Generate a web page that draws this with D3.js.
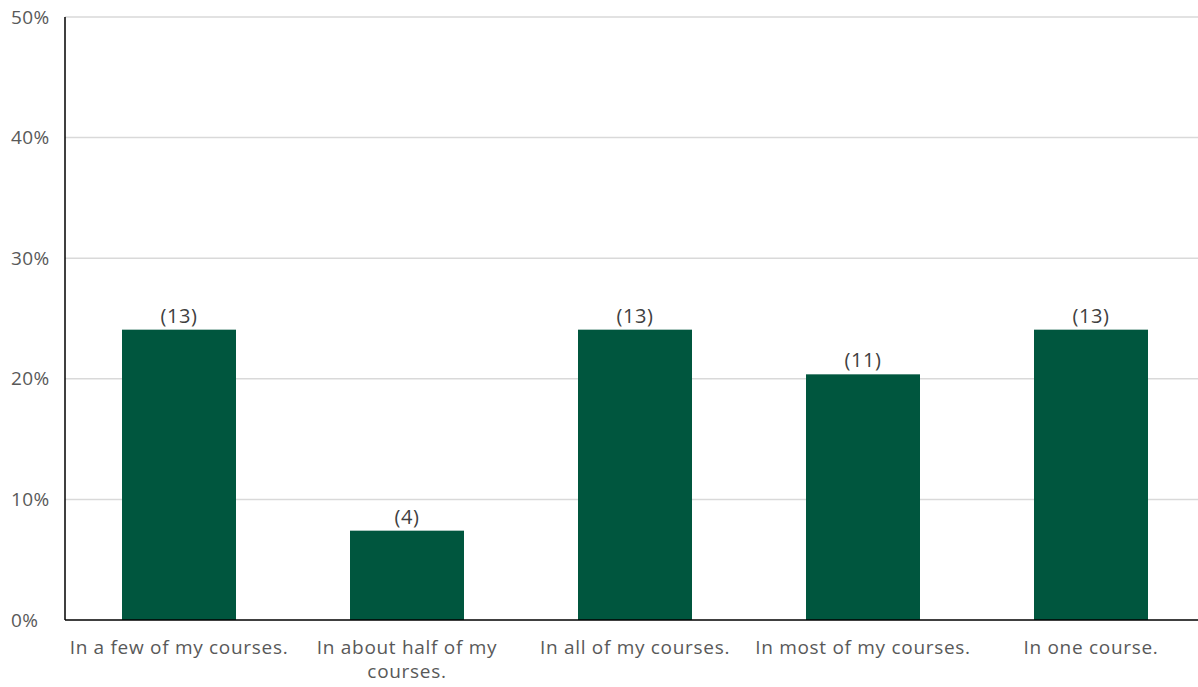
<!DOCTYPE html>
<html><head><meta charset="utf-8">
<script src="https://cdn.jsdelivr.net/npm/d3@7"></script>
<style>body{margin:0;background:#fff}svg{display:block}text{font-family:"Open Sans",sans-serif}</style>
</head><body><svg id="c" width="1198" height="687"></svg>
<script>
const categories = ["In a few of my courses.", "In about half of my courses.", "In all of my courses.", "In most of my courses.", "In one course."];
const counts = [13, 4, 13, 11, 13];
const total = d3.sum(counts);
const percents = counts.map(c => c / total * 100);
const yTicks = [0, 10, 20, 30, 40, 50];

const svg = d3.select("#c");
const x = d3.scaleBand().domain(categories).range([65, 1205]).paddingInner(0.5).paddingOuter(0.25);
const y = d3.scaleLinear().domain([0, 50]).range([620, 17]);

// gridlines
svg.append("g").selectAll("line").data(yTicks.filter(d => d > 0)).join("line")
  .attr("x1", 65).attr("x2", 1198).attr("y1", d => y(d)).attr("y2", d => y(d))
  .attr("stroke", "#d9d9d9").attr("stroke-width", 1.5);

// y tick labels
svg.append("g").selectAll("text").data(yTicks).join("text")
  .attr("x", 11).attr("y", d => y(d)).attr("dy", "0.35em")
  .attr("font-size", 19).attr("letter-spacing", 0.4).attr("fill", "#595959").text(d => d + "%");

// bars
svg.append("g").selectAll("rect").data(categories).join("rect")
  .attr("x", d => x(d)).attr("width", x.bandwidth())
  .attr("y", (d, i) => y(percents[i])).attr("height", (d, i) => y(0) - y(percents[i]))
  .attr("fill", "#00563E");

// data labels
svg.append("g").selectAll("text").data(categories).join("text")
  .attr("x", d => x(d) + x.bandwidth() / 2).attr("y", (d, i) => y(percents[i]) - 7)
  .attr("text-anchor", "middle").attr("font-size", 20).attr("letter-spacing", 0.6).attr("fill", "#404040")
  .text((d, i) => "(" + counts[i] + ")");

// axes lines
svg.append("line").attr("x1", 65).attr("x2", 65).attr("y1", 17).attr("y2", 620).attr("stroke", "#000").attr("stroke-width", 1.5);
svg.append("line").attr("x1", 65).attr("x2", 1198).attr("y1", 620).attr("y2", 620).attr("stroke", "#000").attr("stroke-width", 1.5);

// category labels with wrapping
const maxW = 225;
svg.append("g").selectAll("text").data(categories).join("text")
  .attr("x", d => x(d) + x.bandwidth() / 2).attr("y", 654)
  .attr("text-anchor", "middle").attr("font-size", 19).attr("letter-spacing", 0.7).attr("fill", "#595959")
  .each(function(d) {
    const t = d3.select(this);
    const words = d.split(" ");
    let line = [];
    let ts = t.append("tspan").attr("x", x(d) + x.bandwidth() / 2).attr("dy", 0);
    for (const w of words) {
      line.push(w);
      ts.text(line.join(" "));
      if (ts.node().getComputedTextLength() > maxW && line.length > 1) {
        line.pop();
        ts.text(line.join(" "));
        line = [w];
        ts = t.append("tspan").attr("x", x(d) + x.bandwidth() / 2).attr("dy", 24).text(w);
      }
    }
  });
</script></body></html>
